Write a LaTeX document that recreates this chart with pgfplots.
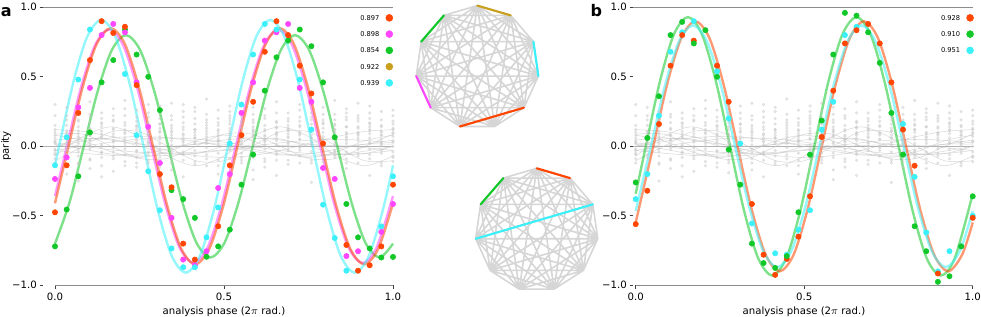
\documentclass[border=0pt]{standalone}
\usepackage{fontspec}
\setmainfont{DejaVu Sans}
\usepackage{pgfplots}
\usepackage{pgfplotstable}
\pgfplotsset{compat=1.18}

\definecolor{cor}{RGB}{255,69,0}
\definecolor{cpk}{RGB}{255,70,255}
\definecolor{cgr}{RGB}{17,200,40}
\definecolor{cgo}{RGB}{200,160,30}
\definecolor{ccy}{RGB}{60,240,250}
\definecolor{edge}{RGB}{214,214,214}
\definecolor{spine}{RGB}{140,140,140}

\pgfplotstableread{
x a b c d e f g h i j k l m n o p
0 0.12 -0.05 0.22 0.03 -0.12 0.08 -0.02 0.30 0.02 -0.09 0.06 0.15 -0.03 0.10 0.04 -0.06
0.0345 -0.08 0.15 0.05 -0.20 0.28 0.02 -0.03 0.10 0.11 0.03 -0.06 0.07 0.19 -0.01 0.08 0.22
0.069 0.18 -0.12 0.07 0.25 -0.02 0.11 -0.25 0.04 -0.04 0.09 0.14 -0.07 0.02 0.19 0.06 -0.13
0.1034 0.05 0.21 -0.09 0.13 0.01 -0.16 0.32 0.08 0.17 -0.02 0.04 0.23 -0.10 0.08 0.12 0.00
0.1379 -0.14 0.09 0.17 -0.04 0.24 0.06 0.00 -0.22 0.07 0.14 -0.08 0.01 0.11 0.20 -0.05 0.16
0.1724 0.27 -0.07 0.12 0.03 -0.18 0.19 0.07 -0.01 -0.09 0.04 0.09 0.18 0.00 -0.04 0.13 0.22
0.2069 0.10 0.33 -0.06 0.15 0.04 -0.11 0.22 0.02 0.06 -0.14 0.17 0.00 0.09 0.27 -0.02 0.12
0.2414 -0.03 0.14 0.26 -0.15 0.08 0.18 -0.08 0.06 0.12 0.02 -0.04 0.21 0.15 -0.12 0.04 0.09
0.2759 0.21 -0.10 0.05 0.12 0.30 -0.04 0.09 -0.19 -0.06 0.17 0.02 0.08 -0.12 0.14 0.24 0.03
0.3103 0.07 0.24 -0.13 0.02 0.16 0.11 -0.05 0.29 0.16 -0.08 0.10 0.20 0.05 -0.02 0.13 -0.15
0.3448 -0.17 0.06 0.19 0.31 -0.02 0.13 0.04 -0.09 0.01 0.10 -0.05 0.15 0.22 0.08 -0.12 0.11
0.3793 0.14 -0.04 0.08 -0.22 0.25 0.01 0.17 0.06 0.09 0.21 0.03 -0.10 0.12 0.30 -0.06 0.04
0.4138 0.03 0.28 -0.11 0.10 0.06 -0.07 0.20 0.12 -0.13 0.06 0.16 0.02 -0.03 0.12 0.25 0.08
0.4483 0.23 0.05 0.15 -0.06 -0.14 0.09 0.02 0.34 0.11 -0.01 0.07 0.19 0.13 -0.09 0.04 0.17
0.4828 -0.10 0.17 0.04 0.26 0.11 -0.20 0.07 0.01 0.05 0.12 -0.14 0.09 0.20 0.03 0.15 -0.05
0.5172 0.09 -0.15 0.22 0.05 0.29 0.13 -0.03 0.16 -0.02 0.20 0.06 0.11 -0.09 0.18 0.01 0.25
0.5517 0.31 0.02 -0.08 0.18 0.07 -0.12 0.25 0.04 0.13 -0.05 0.09 0.00 0.16 0.21 -0.10 0.06
0.5862 -0.05 0.19 0.11 -0.17 0.03 0.23 0.08 -0.24 0.02 0.12 0.17 0.07 -0.08 0.10 0.28 0.14
0.6207 0.15 0.07 0.27 0.01 -0.09 0.12 -0.02 0.20 -0.11 0.04 0.08 0.22 0.05 -0.15 0.11 0.03
0.6552 0.04 -0.21 0.13 0.32 0.08 -0.04 0.17 0.10 0.18 0.09 -0.06 0.14 0.01 0.24 0.06 -0.10
0.6897 0.20 0.11 -0.03 0.06 0.24 0.15 -0.13 0.02 0.07 -0.10 0.12 0.03 0.18 0.09 0.00 0.13
0.7241 -0.12 0.26 0.09 0.14 -0.01 0.05 0.30 0.18 0.00 0.15 0.05 -0.07 0.10 0.21 -0.03 0.08
0.7586 0.08 0.03 0.21 -0.10 0.13 -0.26 0.06 0.11 0.16 0.06 -0.12 0.19 0.01 0.11 0.24 -0.04
0.7931 0.28 -0.06 0.01 0.17 0.10 0.04 -0.15 0.23 -0.08 0.13 0.07 0.02 -0.11 0.16 0.05 0.19
0.8276 0.02 0.16 0.33 -0.08 0.19 0.12 0.05 -0.03 0.10 -0.04 0.15 0.23 0.07 -0.06 0.12 0.00
0.8621 -0.16 0.10 0.06 0.24 -0.04 0.27 0.14 0.07 0.04 0.19 -0.09 0.09 0.14 0.02 0.21 -0.12
0.8966 0.13 0.22 -0.12 0.04 0.09 -0.02 0.18 0.31 -0.05 0.08 0.14 0.00 0.20 0.10 -0.07 0.06
0.931 0.06 -0.09 0.16 0.29 0.02 0.20 -0.21 0.11 0.14 0.03 -0.02 0.12 -0.06 0.17 0.09 0.24
0.9655 0.25 0.01 0.11 -0.05 0.15 0.08 0.03 -0.14 0.08 -0.12 0.19 0.05 0.10 -0.03 0.14 0.02
1 -0.07 0.18 0.04 0.12 0.26 -0.11 0.09 0.00 0.03 0.10 -0.04 0.16 0.07 0.22 -0.08 0.13
}\graydots

\pgfplotstableread{
x g1 g2 g3 g4 g5 g6 g7 g8 g9 g10 g11 g12
0 0.08 0 0.12 0 0.015 0.087 0.025 -0.104 -0.03 0.045 -0.03 -0.07
0.0833 0.04 0.052 0.107 0.035 -0.02 0.087 0 0 0 0.06 -0.05 0.07
0.1667 -0.04 0.052 0.07 0.061 -0.055 0 -0.025 0.104 0.03 0.045 -0.065 0.14
0.25 -0.08 0 0.02 0.07 -0.055 -0.087 -0.043 0.104 0.052 0.015 -0.07 0.07
0.3333 -0.04 -0.052 -0.03 0.061 -0.02 -0.087 -0.05 0 0.06 0 -0.065 -0.07
0.4167 0.04 -0.052 -0.067 0.035 0.015 0 -0.043 -0.104 0.052 0.015 -0.05 -0.14
0.5 0.08 0 -0.08 0 0.015 0.087 -0.025 -0.104 0.03 0.045 -0.03 -0.07
0.5833 0.04 0.052 -0.067 -0.035 -0.02 0.087 0 0 0 0.06 -0.01 0.07
0.6667 -0.04 0.052 -0.03 -0.061 -0.055 0 0.025 0.104 -0.03 0.045 0.005 0.14
0.75 -0.08 0 0.02 -0.07 -0.055 -0.087 0.043 0.104 -0.052 0.015 0.01 0.07
0.8333 -0.04 -0.052 0.07 -0.061 -0.02 -0.087 0.05 0 -0.06 0 0.005 -0.07
0.9167 0.04 -0.052 0.107 -0.035 0.015 0 0.043 -0.104 -0.052 0.015 -0.01 -0.14
1 0.08 0 0.12 0 0.015 0.087 0.025 -0.104 -0.03 0.045 -0.03 -0.07
}\graycurves

\pgfplotsset{
  panel/.style={
    scale only axis, height=208.5pt,
    ymin=-1, ymax=1, clip=false, enlargelimits=false,
    axis lines=left, axis line style={draw=none,-},
    tick align=outside, major tick length=2.6pt,
    tick style={black!75, line width=0.6pt},
    ytick={-1,-0.5,0,0.5,1},
    yticklabels={−1.0,−0.5,0.0,0.5,1.0},
    xtick={0,0.5,1}, xticklabels={0.0,0.5,1.0},
    tick label style={font=\fontsize{7.6}{9}\selectfont, inner sep=0pt},
    yticklabel style={xshift=-1.9pt},
    xticklabel style={yshift=-3pt},
    legend plot pos=right, legend cell align=right,
    legend image code/.code={\draw[##1] plot coordinates {(0pt,0pt)};},
  },
  fit/.style={smooth, line width=1.8pt, opacity=0.55, forget plot},
  dots/.style={only marks, mark=*, mark size=2pt, forget plot},
  gdots/.style={only marks, mark=*, mark size=1.05pt, color=gray!45, opacity=0.4, forget plot},
  gline/.style={smooth, line width=0.4pt, color=gray!55, opacity=0.55, forget plot},
  leg/.style={draw=none, fill=none, inner sep=0pt, outer sep=0pt, row sep=7pt, column sep=4.4pt,
    font=\fontsize{5}{6}\selectfont, nodes={inner sep=0.5pt, text height=3.8pt, text depth=0pt}},
  graph/.style={scale only axis, width=92.55pt, height=92.55pt, xmin=-1, xmax=1, ymin=-1, ymax=1,
    hide axis, clip=false, anchor=center},
  gedge/.style={color=edge, line width=1.2pt, line join=round, line cap=round},
  hedge/.style={line width=1.6pt, line cap=round},
}

\begin{document}
\begin{tikzpicture}
\path[use as bounding box] (0,0) rectangle (735.75pt,237.75pt);

% ---------------- panel a ----------------
\begin{axis}[panel, at={(32.25pt,23.78pt)}, anchor=south west, width=262.5pt, xmin=-0.0355, xmax=1.0,
  legend style={leg, at={(axis cs:0.9994,0.949)}, anchor=north east}]
\addplot[spine, line width=0.6pt, forget plot] coordinates {(-0.0355,1) (1,1)};
\addplot[spine, line width=0.6pt, forget plot] coordinates {(0,-1) (1,-1)};
\addplot[gray!60, line width=0.6pt, forget plot] coordinates {(-0.0355,0) (1,0)};
\addplot[gline] table[y=g1]{\graycurves};
\addplot[gline] table[y=g2]{\graycurves};
\addplot[gline] table[y=g3]{\graycurves};
\addplot[gline] table[y=g4]{\graycurves};
\addplot[gline] table[y=g5]{\graycurves};
\addplot[gline] table[y=g6]{\graycurves};
\addplot[gline] table[y=g7]{\graycurves};
\addplot[gline] table[y=g8]{\graycurves};
\addplot[gline] table[y=g9]{\graycurves};
\addplot[gline] table[y=g10]{\graycurves};
\addplot[gline] table[y=g11]{\graycurves};
\addplot[gline] table[y=g12]{\graycurves};
\addplot[gdots] table[y=a]{\graydots};
\addplot[gdots] table[y=b]{\graydots};
\addplot[gdots] table[y=c]{\graydots};
\addplot[gdots] table[y=d]{\graydots};
\addplot[gdots] table[y=e]{\graydots};
\addplot[gdots] table[y=f]{\graydots};
\addplot[gdots] table[y=g]{\graydots};
\addplot[gdots] table[y=h]{\graydots};
\addplot[gdots] table[y=i]{\graydots};
\addplot[gdots] table[y=j]{\graydots};
\addplot[gdots] table[y=k]{\graydots};
\addplot[gdots] table[y=l]{\graydots};
\addplot[gdots] table[y=m]{\graydots};
\addplot[gdots] table[y=n]{\graydots};
\addplot[gdots] table[y=o]{\graydots};
\addplot[gdots] table[y=p]{\graydots};
% fits
\addplot[fit, cgr] coordinates {(0,-0.70) (0.0433,-0.4) (0.085,0) (0.1267,0.4) (0.1683,0.693) (0.21,0.8) (0.2517,0.693) (0.2933,0.4) (0.335,0) (0.3767,-0.4) (0.4183,-0.693) (0.46,-0.8) (0.5017,-0.693) (0.5433,-0.4) (0.585,0) (0.6267,0.4) (0.6683,0.693) (0.71,0.8) (0.7517,0.693) (0.7933,0.4) (0.835,0) (0.8767,-0.4) (0.9183,-0.693) (0.96,-0.8) (1,-0.70)};
\addplot[fit, cpk] coordinates {(0,-0.358) (0.035,0) (0.0767,0.42) (0.1183,0.727) (0.16,0.84) (0.2017,0.727) (0.2433,0.42) (0.285,0) (0.3267,-0.42) (0.3683,-0.727) (0.41,-0.84) (0.4517,-0.727) (0.4933,-0.42) (0.535,0) (0.5767,0.42) (0.6183,0.727) (0.66,0.84) (0.7017,0.727) (0.7433,0.42) (0.785,0) (0.8267,-0.42) (0.8683,-0.727) (0.91,-0.84) (0.9517,-0.727) (1,-0.358)};
\addplot[fit, cor] coordinates {(0,-0.41) (0.040,0) (0.0817,0.425) (0.1233,0.736) (0.165,0.85) (0.2067,0.736) (0.2483,0.425) (0.290,0) (0.3317,-0.425) (0.3733,-0.736) (0.415,-0.85) (0.4567,-0.736) (0.4983,-0.425) (0.540,0) (0.5817,0.425) (0.6233,0.736) (0.665,0.85) (0.7067,0.736) (0.7483,0.425) (0.790,0) (0.8317,-0.425) (0.8733,-0.736) (0.915,-0.85) (0.9567,-0.736) (1,-0.41)};
\addplot[fit, ccy] coordinates {(0,-0.137) (0.0537,0.455) (0.0953,0.788) (0.137,0.91) (0.1787,0.788) (0.2203,0.455) (0.262,0) (0.3037,-0.455) (0.3453,-0.788) (0.387,-0.91) (0.4287,-0.788) (0.4703,-0.455) (0.512,0) (0.5537,0.455) (0.5953,0.788) (0.637,0.91) (0.6787,0.788) (0.7203,0.455) (0.762,0) (0.8037,-0.455) (0.8453,-0.788) (0.887,-0.91) (0.9287,-0.788) (0.9703,-0.455) (1,-0.137)};
% data
\addplot[dots, cgr] coordinates {(0,-0.72) (0.0345,-0.455) (0.069,-0.216) (0.1034,0.10) (0.1379,0.46) (0.1724,0.62) (0.2069,0.84) (0.2414,0.66) (0.2759,0.50) (0.3103,0.26) (0.3448,-0.316) (0.3793,-0.38) (0.4138,-0.515) (0.4483,-0.795) (0.4828,-0.72) (0.5172,-0.60) (0.5517,-0.276) (0.5862,-0.06) (0.6207,0.40) (0.6552,0.64) (0.6897,0.76) (0.7241,0.84) (0.7586,0.72) (0.7931,0.46) (0.8276,0.065) (0.8621,-0.415) (0.8966,-0.655) (0.931,-0.735) (0.9655,-0.80) (1,-0.796)};
\addplot[dots, cpk] coordinates {(0,-0.235) (0.0345,-0.08) (0.069,0.28) (0.1034,0.42) (0.1379,0.80) (0.1724,0.88) (0.2069,0.82) (0.2414,0.46) (0.2759,0.14) (0.3103,-0.12) (0.3448,-0.515) (0.3793,-0.815) (0.4138,-0.855) (0.4483,-0.755) (0.4828,-0.30) (0.5172,-0.20) (0.5517,0.24) (0.5862,0.46) (0.6207,0.76) (0.6552,0.82) (0.6897,0.88) (0.7241,0.42) (0.7586,0.32) (0.7931,-0.156) (0.8276,-0.235) (0.8621,-0.79) (0.8966,-0.755) (0.9655,-0.616) (1,-0.415)};
\addplot[dots, ccy] coordinates {(0,-0.137) (0.0345,0.065) (0.069,0.48) (0.1034,0.84) (0.2069,0.52) (0.2414,0.08) (0.2759,-0.18) (0.3103,-0.46) (0.3448,-0.735) (0.3793,-0.87) (0.4138,-0.87) (0.4483,-0.655) (0.4828,-0.44) (0.5172,0.02) (0.5517,0.30) (0.5862,0.66) (0.6207,0.88) (0.6552,0.84) (0.7241,0.48) (0.7586,0.12) (0.7931,-0.42) (0.8276,-0.66) (0.8621,-0.895) (0.9655,-0.576) (1,-0.216)};
\addplot[dots, cor] coordinates {(0,-0.475) (0.0345,-0.137) (0.069,0.24) (0.1034,0.62) (0.1379,0.90) (0.1724,0.815) (0.2069,0.86) (0.2414,0.44) (0.3103,-0.20) (0.3448,-0.295) (0.3793,-0.70) (0.4138,-0.815) (0.4828,-0.575) (0.5172,-0.137) (0.5517,0.08) (0.5862,0.32) (0.6207,0.68) (0.6552,0.90) (0.6897,0.80) (0.7241,0.58) (0.7586,0.38) (0.7931,0.02) (0.8621,-0.71) (0.8966,-0.895) (0.931,-0.856) (0.9655,-0.72) (1,-0.276)};
\addlegendimage{only marks, mark=*, mark size=2.6pt, cor}\addlegendentry{0.897}
\addlegendimage{only marks, mark=*, mark size=2.6pt, cpk}\addlegendentry{0.898}
\addlegendimage{only marks, mark=*, mark size=2.6pt, cgr}\addlegendentry{0.854}
\addlegendimage{only marks, mark=*, mark size=2.6pt, cgo}\addlegendentry{0.922}
\addlegendimage{only marks, mark=*, mark size=2.6pt, ccy}\addlegendentry{0.939}
\end{axis}

% ---------------- panel b ----------------
\begin{axis}[panel, at={(474.75pt,23.78pt)}, anchor=south west, width=254.8pt, xmin=-0.008, xmax=1.0,
  legend style={leg, at={(axis cs:1.0024,0.949)}, anchor=north east}]
\addplot[spine, line width=0.6pt, forget plot] coordinates {(-0.008,1) (1,1)};
\addplot[spine, line width=0.6pt, forget plot] coordinates {(0,-1) (1,-1)};
\addplot[gray!60, line width=0.6pt, forget plot] coordinates {(-0.008,0) (1,0)};
\addplot[gline] table[y=g5]{\graycurves};
\addplot[gline] table[y=g2]{\graycurves};
\addplot[gline] table[y=g7]{\graycurves};
\addplot[gline] table[y=g4]{\graycurves};
\addplot[gline] table[y=g1]{\graycurves};
\addplot[gline] table[y=g6]{\graycurves};
\addplot[gline] table[y=g3]{\graycurves};
\addplot[gline] table[y=g8]{\graycurves};
\addplot[gline] table[y=g9]{\graycurves};
\addplot[gline] table[y=g10]{\graycurves};
\addplot[gline] table[y=g11]{\graycurves};
\addplot[gline] table[y=g12]{\graycurves};
\addplot[gdots] table[y=p]{\graydots};
\addplot[gdots] table[y=o]{\graydots};
\addplot[gdots] table[y=n]{\graydots};
\addplot[gdots] table[y=m]{\graydots};
\addplot[gdots] table[y=l]{\graydots};
\addplot[gdots] table[y=k]{\graydots};
\addplot[gdots] table[y=j]{\graydots};
\addplot[gdots] table[y=i]{\graydots};
\addplot[gdots] table[y=h]{\graydots};
\addplot[gdots] table[y=g]{\graydots};
\addplot[gdots] table[y=f]{\graydots};
\addplot[gdots] table[y=e]{\graydots};
\addplot[gdots] table[y=d]{\graydots};
\addplot[gdots] table[y=c]{\graydots};
\addplot[gdots] table[y=b]{\graydots};
\addplot[gdots] table[y=a]{\graydots};
% fits
\addplot[fit, cgr] coordinates {(0,-0.342) (0.03,0) (0.0717,0.465) (0.1133,0.805) (0.155,0.93) (0.1967,0.805) (0.2383,0.465) (0.28,0) (0.3217,-0.465) (0.3633,-0.805) (0.405,-0.93) (0.4467,-0.805) (0.4883,-0.465) (0.53,0) (0.5717,0.465) (0.6133,0.805) (0.655,0.93) (0.6967,0.805) (0.7383,0.465) (0.78,0) (0.8217,-0.465) (0.8633,-0.805) (0.905,-0.93) (0.9467,-0.805) (1,-0.342)};
\addplot[fit, cor] coordinates {(0,-0.548) (0.052,0) (0.0937,0.45) (0.1353,0.779) (0.177,0.9) (0.2187,0.779) (0.2603,0.45) (0.302,0) (0.3437,-0.45) (0.3853,-0.779) (0.427,-0.9) (0.4687,-0.779) (0.5103,-0.45) (0.552,0) (0.5937,0.45) (0.6353,0.779) (0.677,0.9) (0.7187,0.779) (0.7603,0.45) (0.802,0) (0.8437,-0.45) (0.8853,-0.779) (0.927,-0.9) (0.9687,-0.779) (1,-0.548)};
\addplot[fit, ccy] coordinates {(0,-0.466) (0.045,0) (0.0867,0.435) (0.1283,0.753) (0.17,0.87) (0.2117,0.753) (0.2533,0.435) (0.295,0) (0.3367,-0.435) (0.3783,-0.753) (0.42,-0.87) (0.4617,-0.753) (0.5033,-0.435) (0.545,0) (0.5867,0.435) (0.6283,0.753) (0.67,0.87) (0.7117,0.753) (0.7533,0.435) (0.795,0) (0.8367,-0.435) (0.8783,-0.753) (0.92,-0.87) (0.9617,-0.753) (1,-0.466)};
% data
\addplot[dots, ccy] coordinates {(0,-0.38) (0.0345,-0.20) (0.069,0.22) (0.1034,0.68) (0.1379,0.82) (0.1724,0.90) (0.2414,0.54) (0.2759,0.20) (0.3103,0.02) (0.3448,-0.555) (0.4138,-0.77) (0.4483,-0.78) (0.4828,-0.60) (0.5172,-0.46) (0.5517,0.12) (0.5862,0.32) (0.6207,0.80) (0.6552,0.86) (0.7931,0.16) (0.8276,-0.22) (0.8621,-0.62) (0.8966,-0.90) (0.931,-0.755) (0.9655,-0.72) (1,-0.50)};
\addplot[dots, cor] coordinates {(0,-0.56) (0.0345,-0.32) (0.069,0.16) (0.1034,0.58) (0.1379,0.80) (0.1724,0.76) (0.2414,0.58) (0.2759,0.32) (0.3448,-0.415) (0.3793,-0.78) (0.4138,-0.925) (0.4483,-0.81) (0.4828,-0.65) (0.5172,-0.36) (0.5517,0.067) (0.5862,0.40) (0.6207,0.74) (0.6552,0.835) (0.6897,0.88) (0.7241,0.74) (0.7586,0.46) (0.7931,0.12) (0.8276,-0.14) (0.8966,-0.915) (1,-0.515)};
\addplot[dots, cgr] coordinates {(0,-0.26) (0.0345,0.06) (0.069,0.36) (0.1034,0.80) (0.1379,0.895) (0.1724,0.74) (0.2069,0.835) (0.2414,0.50) (0.2759,-0.024) (0.3103,-0.276) (0.3448,-0.70) (0.3793,-0.84) (0.4138,-0.875) (0.4483,-0.79) (0.4828,-0.475) (0.5172,-0.06) (0.5517,0.185) (0.5862,0.66) (0.6207,0.96) (0.6552,0.94) (0.6897,0.82) (0.7241,0.60) (0.7586,0.24) (0.7931,-0.06) (0.8276,-0.575) (0.8621,-0.755) (0.8966,-0.975) (0.931,-0.935) (0.9655,-0.72) (1,-0.36)};
\addlegendimage{only marks, mark=*, mark size=2.6pt, cor}\addlegendentry{0.928}
\addlegendimage{only marks, mark=*, mark size=2.6pt, cgr}\addlegendentry{0.910}
\addlegendimage{only marks, mark=*, mark size=2.6pt, ccy}\addlegendentry{0.951}
\end{axis}

% ---------------- graph 1 ----------------
\begin{axis}[graph, at={(357.98pt,187.28pt)}]
\addplot[gedge] coordinates {(0,1) (0.5406,0.8413) (0.9096,0.4154) (0.9898,-0.1423) (0.7557,-0.6549) (0.2817,-0.9595) (-0.2817,-0.9595) (-0.7557,-0.6549) (-0.9898,-0.1423) (-0.9096,0.4154) (-0.5406,0.8413) (0,1)
(0.9096,0.4154) (0.7557,-0.6549) (-0.2817,-0.9595) (-0.9898,-0.1423) (-0.5406,0.8413) (0.5406,0.8413) (0.9898,-0.1423) (0.2817,-0.9595) (-0.7557,-0.6549) (-0.9096,0.4154) (0,1)
(0.9898,-0.1423) (-0.2817,-0.9595) (-0.9096,0.4154) (0.5406,0.8413) (0.7557,-0.6549) (-0.7557,-0.6549) (-0.5406,0.8413) (0.9096,0.4154) (0.2817,-0.9595) (-0.9898,-0.1423) (0,1)
(0.7557,-0.6549) (-0.9898,-0.1423) (0.5406,0.8413) (0.2817,-0.9595) (-0.9096,0.4154) (0.9096,0.4154) (-0.2817,-0.9595) (-0.5406,0.8413) (0.9898,-0.1423) (-0.7557,-0.6549) (0,1)
(0.2817,-0.9595) (-0.5406,0.8413) (0.7557,-0.6549) (-0.9096,0.4154) (0.9898,-0.1423) (-0.9898,-0.1423) (0.9096,0.4154) (-0.7557,-0.6549) (0.5406,0.8413) (-0.2817,-0.9595) (0,1)};
\addplot[hedge, cgo] coordinates {(0,1) (0.5406,0.8413)};
\addplot[hedge, ccy] coordinates {(0.9096,0.4154) (0.9898,-0.1423)};
\addplot[hedge, cor] coordinates {(0.7557,-0.6549) (-0.2817,-0.9595)};
\addplot[hedge, cpk] coordinates {(-0.7557,-0.6549) (-0.9898,-0.1423)};
\addplot[hedge, cgr] coordinates {(-0.9096,0.4154) (-0.5406,0.8413)};
\end{axis}

% ---------------- graph 2 ----------------
\begin{axis}[graph, at={(402.53pt,65.25pt)}]
\addplot[gedge] coordinates {(0,1) (0.5406,0.8413) (0.9096,0.4154) (0.9898,-0.1423) (0.7557,-0.6549) (0.2817,-0.9595) (-0.2817,-0.9595) (-0.7557,-0.6549) (-0.9898,-0.1423) (-0.9096,0.4154) (-0.5406,0.8413) (0,1)
(0.9096,0.4154) (0.7557,-0.6549) (-0.2817,-0.9595) (-0.9898,-0.1423) (-0.5406,0.8413) (0.5406,0.8413) (0.9898,-0.1423) (0.2817,-0.9595) (-0.7557,-0.6549) (-0.9096,0.4154) (0,1)
(0.9898,-0.1423) (-0.2817,-0.9595) (-0.9096,0.4154) (0.5406,0.8413) (0.7557,-0.6549) (-0.7557,-0.6549) (-0.5406,0.8413) (0.9096,0.4154) (0.2817,-0.9595) (-0.9898,-0.1423) (0,1)
(0.7557,-0.6549) (-0.9898,-0.1423) (0.5406,0.8413) (0.2817,-0.9595) (-0.9096,0.4154) (0.9096,0.4154) (-0.2817,-0.9595) (-0.5406,0.8413) (0.9898,-0.1423) (-0.7557,-0.6549) (0,1)
(0.2817,-0.9595) (-0.5406,0.8413) (0.7557,-0.6549) (-0.9096,0.4154) (0.9898,-0.1423) (-0.9898,-0.1423) (0.9096,0.4154) (-0.7557,-0.6549) (0.5406,0.8413) (-0.2817,-0.9595) (0,1)};
\addplot[hedge, cor] coordinates {(0,1) (0.5406,0.8413)};
\addplot[hedge, cgr] coordinates {(-0.9096,0.4154) (-0.5406,0.8413)};
\addplot[hedge, ccy] coordinates {(0.9096,0.4154) (-0.9898,-0.1423)};
\end{axis}

% ---------------- labels ----------------
\node[anchor=center, inner sep=0pt, font=\fontsize{7.6}{9}\selectfont] at (168pt,3.75pt) {analysis phase (2$\pi$ rad.)};
\node[anchor=center, inner sep=0pt, font=\fontsize{7.6}{9}\selectfont] at (603pt,3.75pt) {analysis phase (2$\pi$ rad.)};
\node[anchor=center, inner sep=0pt, rotate=90, font=\fontsize{7.6}{9}\selectfont] at (4.5pt,128.25pt) {parity};
\node[anchor=base west, inner sep=0pt, font=\fontsize{12}{14}\selectfont\bfseries] at (0.5pt,225.5pt) {a};
\node[anchor=base west, inner sep=0pt, font=\fontsize{12}{14}\selectfont\bfseries] at (442.7pt,225.5pt) {b};
\end{tikzpicture}
\end{document}
